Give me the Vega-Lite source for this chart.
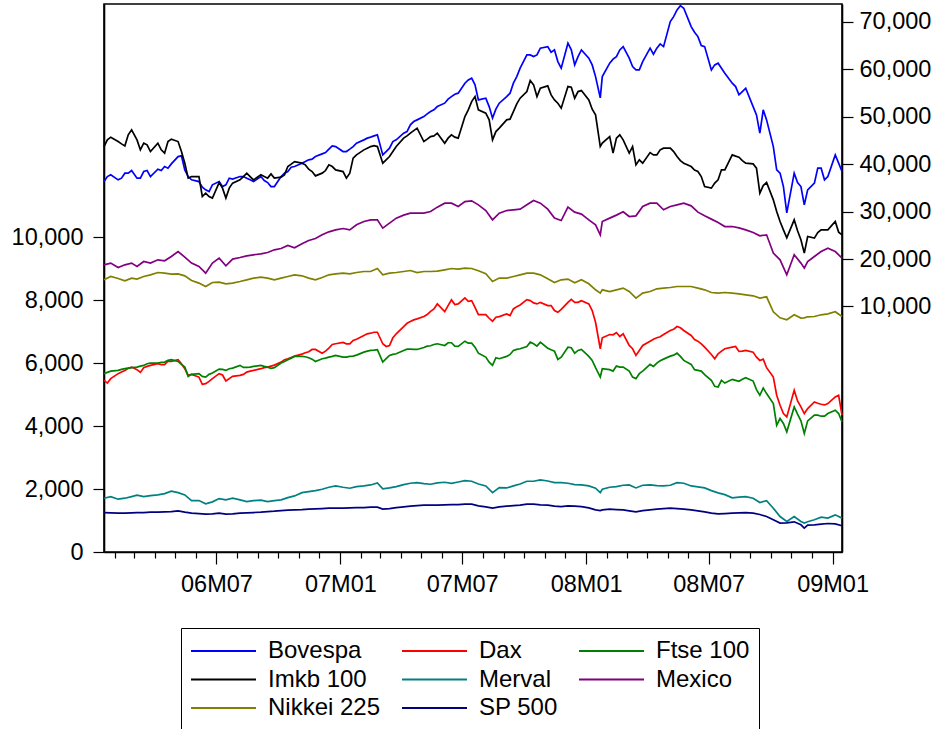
{
"$schema": "https://vega.github.io/schema/vega-lite/v6.json",
"width": 738, "height": 548,
"autosize": "none",
"padding": {"left": 104, "top": 4, "right": 94, "bottom": 177},
"background": "white",
"data": {"values": [
{"d":"2006-01-15","Bovespa":36311,"Imkb 100":43679,"Mexico":18777,"Nikkei 225":15619,"Dax":5457,"Ftse 100":5669,"Merval":1710,"SP 500":1254},
{"d":"2006-01-25","Bovespa":37722,"Imkb 100":45657,"Mexico":19134,"Nikkei 225":16314,"Dax":5511,"Ftse 100":5751,"Merval":1761,"SP 500":1245},
{"d":"2006-02-05","Bovespa":36669,"Imkb 100":44731,"Mexico":18208,"Nikkei 225":15893,"Dax":5669,"Ftse 100":5773,"Merval":1679,"SP 500":1235},
{"d":"2006-02-15","Bovespa":38079,"Imkb 100":43826,"Mexico":18777,"Nikkei 225":15409,"Dax":5773,"Ftse 100":5827,"Merval":1710,"SP 500":1235},
{"d":"2006-02-25","Bovespa":38627,"Imkb 100":47194,"Mexico":19134,"Nikkei 225":15977,"Dax":5878,"Ftse 100":5859,"Merval":1761,"SP 500":1245},
{"d":"2006-03-05","Bovespa":37027,"Imkb 100":45089,"Mexico":18419,"Nikkei 225":15766,"Dax":5796,"Ftse 100":5878,"Merval":1805,"SP 500":1254},
{"d":"2006-03-15","Bovespa":38416,"Imkb 100":44394,"Mexico":19471,"Nikkei 225":16314,"Dax":5859,"Ftse 100":5932,"Merval":1761,"SP 500":1254},
{"d":"2006-03-25","Bovespa":37364,"Imkb 100":42626,"Mexico":19134,"Nikkei 225":16672,"Dax":5932,"Ftse 100":6005,"Merval":1793,"SP 500":1267},
{"d":"2006-04-05","Bovespa":38921,"Imkb 100":44394,"Mexico":19829,"Nikkei 225":17156,"Dax":5986,"Ftse 100":6005,"Merval":1815,"SP 500":1267},
{"d":"2006-04-15","Bovespa":39469,"Imkb 100":42289,"Mexico":19619,"Nikkei 225":17029,"Dax":5954,"Ftse 100":6036,"Merval":1856,"SP 500":1276},
{"d":"2006-04-25","Bovespa":40037,"Imkb 100":45236,"Mexico":20524,"Nikkei 225":16819,"Dax":6058,"Ftse 100":6112,"Merval":1932,"SP 500":1286},
{"d":"2006-05-05","Bovespa":41574,"Imkb 100":44731,"Mexico":21576,"Nikkei 225":16882,"Dax":6112,"Ftse 100":6058,"Merval":1888,"SP 500":1308},
{"d":"2006-05-15","Bovespa":38774,"Imkb 100":40184,"Mexico":20397,"Nikkei 225":16461,"Dax":5827,"Ftse 100":5878,"Merval":1815,"SP 500":1267},
{"d":"2006-05-25","Bovespa":36669,"Imkb 100":37364,"Mexico":19134,"Nikkei 225":15472,"Dax":5647,"Ftse 100":5647,"Merval":1634,"SP 500":1235},
{"d":"2006-06-05","Bovespa":36311,"Imkb 100":37364,"Mexico":18419,"Nikkei 225":14924,"Dax":5561,"Ftse 100":5669,"Merval":1634,"SP 500":1222},
{"d":"2006-06-15","Bovespa":34564,"Imkb 100":33869,"Mexico":17029,"Nikkei 225":14209,"Dax":5352,"Ftse 100":5561,"Merval":1530,"SP 500":1203},
{"d":"2006-06-25","Bovespa":35617,"Imkb 100":32817,"Mexico":19134,"Nikkei 225":15051,"Dax":5511,"Ftse 100":5688,"Merval":1593,"SP 500":1213},
{"d":"2006-07-05","Bovespa":36311,"Imkb 100":36101,"Mexico":20187,"Nikkei 225":15135,"Dax":5669,"Ftse 100":5815,"Merval":1698,"SP 500":1235},
{"d":"2006-07-15","Bovespa":35617,"Imkb 100":32817,"Mexico":18566,"Nikkei 225":14777,"Dax":5435,"Ftse 100":5773,"Merval":1656,"SP 500":1203},
{"d":"2006-07-25","Bovespa":36816,"Imkb 100":35974,"Mexico":19976,"Nikkei 225":14924,"Dax":5583,"Ftse 100":5846,"Merval":1710,"SP 500":1213},
{"d":"2006-08-05","Bovespa":37364,"Imkb 100":36669,"Mexico":20313,"Nikkei 225":15261,"Dax":5615,"Ftse 100":5932,"Merval":1656,"SP 500":1235},
{"d":"2006-08-15","Bovespa":37027,"Imkb 100":38079,"Mexico":20671,"Nikkei 225":15619,"Dax":5720,"Ftse 100":5868,"Merval":1603,"SP 500":1245},
{"d":"2006-08-25","Bovespa":36311,"Imkb 100":36669,"Mexico":20882,"Nikkei 225":15977,"Dax":5773,"Ftse 100":5900,"Merval":1634,"SP 500":1254},
{"d":"2006-09-05","Bovespa":37364,"Imkb 100":37722,"Mexico":21092,"Nikkei 225":16187,"Dax":5827,"Ftse 100":5932,"Merval":1647,"SP 500":1267},
{"d":"2006-09-15","Bovespa":36101,"Imkb 100":37027,"Mexico":21366,"Nikkei 225":15977,"Dax":5878,"Ftse 100":5878,"Merval":1603,"SP 500":1286},
{"d":"2006-09-25","Bovespa":35259,"Imkb 100":37027,"Mexico":21934,"Nikkei 225":15619,"Dax":5941,"Ftse 100":5859,"Merval":1634,"SP 500":1298},
{"d":"2006-10-05","Bovespa":37364,"Imkb 100":37237,"Mexico":22208,"Nikkei 225":15977,"Dax":6036,"Ftse 100":6005,"Merval":1656,"SP 500":1317},
{"d":"2006-10-15","Bovespa":38416,"Imkb 100":39469,"Mexico":22839,"Nikkei 225":16314,"Dax":6144,"Ftse 100":6112,"Merval":1729,"SP 500":1330},
{"d":"2006-10-25","Bovespa":39469,"Imkb 100":40521,"Mexico":22355,"Nikkei 225":16672,"Dax":6226,"Ftse 100":6217,"Merval":1783,"SP 500":1340},
{"d":"2006-11-05","Bovespa":40184,"Imkb 100":40184,"Mexico":23197,"Nikkei 225":16461,"Dax":6290,"Ftse 100":6217,"Merval":1888,"SP 500":1349},
{"d":"2006-11-15","Bovespa":40879,"Imkb 100":38921,"Mexico":23892,"Nikkei 225":15977,"Dax":6366,"Ftse 100":6176,"Merval":1919,"SP 500":1362},
{"d":"2006-11-25","Bovespa":41574,"Imkb 100":37511,"Mexico":24313,"Nikkei 225":15619,"Dax":6439,"Ftse 100":6058,"Merval":1951,"SP 500":1371},
{"d":"2006-12-05","Bovespa":42142,"Imkb 100":38079,"Mexico":25092,"Nikkei 225":16103,"Dax":6321,"Ftse 100":6144,"Merval":1995,"SP 500":1381},
{"d":"2006-12-15","Bovespa":43131,"Imkb 100":39827,"Mexico":25723,"Nikkei 225":16672,"Dax":6480,"Ftse 100":6195,"Merval":2059,"SP 500":1393},
{"d":"2006-12-25","Bovespa":43679,"Imkb 100":38774,"Mexico":26144,"Nikkei 225":16882,"Dax":6619,"Ftse 100":6249,"Merval":2100,"SP 500":1393},
{"d":"2007-01-05","Bovespa":42626,"Imkb 100":38416,"Mexico":26418,"Nikkei 225":17029,"Dax":6660,"Ftse 100":6195,"Merval":2059,"SP 500":1393},
{"d":"2007-01-15","Bovespa":43131,"Imkb 100":38079,"Mexico":26144,"Nikkei 225":16882,"Dax":6619,"Ftse 100":6217,"Merval":2027,"SP 500":1403},
{"d":"2007-01-25","Bovespa":44394,"Imkb 100":41932,"Mexico":27197,"Nikkei 225":17156,"Dax":6765,"Ftse 100":6258,"Merval":2078,"SP 500":1412},
{"d":"2007-02-05","Bovespa":45089,"Imkb 100":42984,"Mexico":27891,"Nikkei 225":17366,"Dax":6882,"Ftse 100":6353,"Merval":2100,"SP 500":1412},
{"d":"2007-02-15","Bovespa":45657,"Imkb 100":43679,"Mexico":28249,"Nikkei 225":17366,"Dax":6955,"Ftse 100":6407,"Merval":2131,"SP 500":1425},
{"d":"2007-02-25","Bovespa":46142,"Imkb 100":43679,"Mexico":28249,"Nikkei 225":17998,"Dax":6986,"Ftse 100":6429,"Merval":2195,"SP 500":1425},
{"d":"2007-03-05","Bovespa":41932,"Imkb 100":40184,"Mexico":26502,"Nikkei 225":16672,"Dax":6619,"Ftse 100":6036,"Merval":2005,"SP 500":1362},
{"d":"2007-03-15","Bovespa":43342,"Imkb 100":41574,"Mexico":27554,"Nikkei 225":17029,"Dax":6565,"Ftse 100":6249,"Merval":2036,"SP 500":1381},
{"d":"2007-03-25","Bovespa":45089,"Imkb 100":43679,"Mexico":28607,"Nikkei 225":17156,"Dax":6936,"Ftse 100":6302,"Merval":2078,"SP 500":1412},
{"d":"2007-04-05","Bovespa":46499,"Imkb 100":45447,"Mexico":29238,"Nikkei 225":17366,"Dax":7167,"Ftse 100":6407,"Merval":2141,"SP 500":1435},
{"d":"2007-04-15","Bovespa":48247,"Imkb 100":46499,"Mexico":29659,"Nikkei 225":17577,"Dax":7325,"Ftse 100":6448,"Merval":2185,"SP 500":1457},
{"d":"2007-04-25","Bovespa":49299,"Imkb 100":47552,"Mexico":29659,"Nikkei 225":17156,"Dax":7411,"Ftse 100":6439,"Merval":2204,"SP 500":1476},
{"d":"2007-05-05","Bovespa":49994,"Imkb 100":44731,"Mexico":29659,"Nikkei 225":17366,"Dax":7484,"Ftse 100":6502,"Merval":2173,"SP 500":1488},
{"d":"2007-05-15","Bovespa":51046,"Imkb 100":45784,"Mexico":29996,"Nikkei 225":17366,"Dax":7651,"Ftse 100":6556,"Merval":2154,"SP 500":1488},
{"d":"2007-05-25","Bovespa":52099,"Imkb 100":46499,"Mexico":30922,"Nikkei 225":17450,"Dax":7886,"Ftse 100":6619,"Merval":2195,"SP 500":1488},
{"d":"2007-06-05","Bovespa":52814,"Imkb 100":44394,"Mexico":31764,"Nikkei 225":17724,"Dax":7642,"Ftse 100":6565,"Merval":2217,"SP 500":1498},
{"d":"2007-06-15","Bovespa":54204,"Imkb 100":46142,"Mexico":31764,"Nikkei 225":17998,"Dax":8013,"Ftse 100":6651,"Merval":2185,"SP 500":1507},
{"d":"2007-06-25","Bovespa":54919,"Imkb 100":45447,"Mexico":31049,"Nikkei 225":17871,"Dax":7886,"Ftse 100":6534,"Merval":2226,"SP 500":1507},
{"d":"2007-07-05","Bovespa":57024,"Imkb 100":49994,"Mexico":32101,"Nikkei 225":18082,"Dax":8076,"Ftse 100":6701,"Merval":2268,"SP 500":1520},
{"d":"2007-07-15","Bovespa":58077,"Imkb 100":53151,"Mexico":32249,"Nikkei 225":17998,"Dax":7990,"Ftse 100":6638,"Merval":2249,"SP 500":1520},
{"d":"2007-07-25","Bovespa":53509,"Imkb 100":51404,"Mexico":31407,"Nikkei 225":17514,"Dax":7547,"Ftse 100":6321,"Merval":2163,"SP 500":1466},
{"d":"2007-08-05","Bovespa":53867,"Imkb 100":50709,"Mexico":30207,"Nikkei 225":16882,"Dax":7547,"Ftse 100":6195,"Merval":2100,"SP 500":1435},
{"d":"2007-08-15","Bovespa":49657,"Imkb 100":45089,"Mexico":28249,"Nikkei 225":15261,"Dax":7335,"Ftse 100":5932,"Merval":1888,"SP 500":1393},
{"d":"2007-08-25","Bovespa":52814,"Imkb 100":47552,"Mexico":29659,"Nikkei 225":15977,"Dax":7484,"Ftse 100":6144,"Merval":2046,"SP 500":1435},
{"d":"2007-09-05","Bovespa":54204,"Imkb 100":49299,"Mexico":30207,"Nikkei 225":15977,"Dax":7569,"Ftse 100":6217,"Merval":2036,"SP 500":1457},
{"d":"2007-09-15","Bovespa":57024,"Imkb 100":51046,"Mexico":30354,"Nikkei 225":16314,"Dax":7727,"Ftse 100":6407,"Merval":2100,"SP 500":1476},
{"d":"2007-09-25","Bovespa":60182,"Imkb 100":53867,"Mexico":30501,"Nikkei 225":16672,"Dax":7854,"Ftse 100":6461,"Merval":2163,"SP 500":1488},
{"d":"2007-10-05","Bovespa":62982,"Imkb 100":55256,"Mexico":31407,"Nikkei 225":17029,"Dax":8022,"Ftse 100":6534,"Merval":2249,"SP 500":1520},
{"d":"2007-10-15","Bovespa":62624,"Imkb 100":56667,"Mexico":32312,"Nikkei 225":17029,"Dax":7918,"Ftse 100":6619,"Merval":2249,"SP 500":1520},
{"d":"2007-10-25","Bovespa":64392,"Imkb 100":55972,"Mexico":31764,"Nikkei 225":16672,"Dax":7936,"Ftse 100":6670,"Merval":2290,"SP 500":1498},
{"d":"2007-11-05","Bovespa":64729,"Imkb 100":56456,"Mexico":30501,"Nikkei 225":15830,"Dax":7832,"Ftse 100":6480,"Merval":2258,"SP 500":1488},
{"d":"2007-11-15","Bovespa":64034,"Imkb 100":53509,"Mexico":28607,"Nikkei 225":15051,"Dax":7674,"Ftse 100":6385,"Merval":2204,"SP 500":1457},
{"d":"2007-11-25","Bovespa":60182,"Imkb 100":51762,"Mexico":28102,"Nikkei 225":15619,"Dax":7715,"Ftse 100":6195,"Merval":2204,"SP 500":1444},
{"d":"2007-12-05","Bovespa":65444,"Imkb 100":56309,"Mexico":30922,"Nikkei 225":15766,"Dax":7936,"Ftse 100":6511,"Merval":2185,"SP 500":1466},
{"d":"2007-12-15","Bovespa":60877,"Imkb 100":53867,"Mexico":29870,"Nikkei 225":14988,"Dax":7936,"Ftse 100":6321,"Merval":2141,"SP 500":1457},
{"d":"2007-12-25","Bovespa":64034,"Imkb 100":55467,"Mexico":29449,"Nikkei 225":15619,"Dax":7990,"Ftse 100":6439,"Merval":2131,"SP 500":1444},
{"d":"2008-01-05","Bovespa":62287,"Imkb 100":53509,"Mexico":28249,"Nikkei 225":14777,"Dax":7886,"Ftse 100":6217,"Merval":2100,"SP 500":1403},
{"d":"2008-01-15","Bovespa":58414,"Imkb 100":50352,"Mexico":27197,"Nikkei 225":13514,"Dax":7303,"Ftse 100":5859,"Merval":2027,"SP 500":1340},
{"d":"2008-01-22","Bovespa":53930,"Imkb 100":43679,"Mexico":25092,"Nikkei 225":12819,"Dax":6461,"Ftse 100":5561,"Merval":1888,"SP 500":1317},
{"d":"2008-01-25","Bovespa":58414,"Imkb 100":44394,"Mexico":27891,"Nikkei 225":13514,"Dax":6809,"Ftse 100":5827,"Merval":1995,"SP 500":1340},
{"d":"2008-02-05","Bovespa":61234,"Imkb 100":45784,"Mexico":28607,"Nikkei 225":13156,"Dax":6914,"Ftse 100":5796,"Merval":2059,"SP 500":1362},
{"d":"2008-02-15","Bovespa":62624,"Imkb 100":45447,"Mexico":29238,"Nikkei 225":13514,"Dax":6977,"Ftse 100":5910,"Merval":2078,"SP 500":1349},
{"d":"2008-02-25","Bovespa":64729,"Imkb 100":45089,"Mexico":29933,"Nikkei 225":13872,"Dax":6936,"Ftse 100":5878,"Merval":2122,"SP 500":1340},
{"d":"2008-03-05","Bovespa":62287,"Imkb 100":42289,"Mexico":28944,"Nikkei 225":13156,"Dax":6565,"Ftse 100":5751,"Merval":2131,"SP 500":1308},
{"d":"2008-03-15","Bovespa":59824,"Imkb 100":39827,"Mexico":29091,"Nikkei 225":11767,"Dax":6249,"Ftse 100":5511,"Merval":2036,"SP 500":1276},
{"d":"2008-03-25","Bovespa":61571,"Imkb 100":40184,"Mexico":31049,"Nikkei 225":12819,"Dax":6565,"Ftse 100":5751,"Merval":2122,"SP 500":1317},
{"d":"2008-04-05","Bovespa":64392,"Imkb 100":42416,"Mexico":31764,"Nikkei 225":13156,"Dax":6701,"Ftse 100":5963,"Merval":2131,"SP 500":1340},
{"d":"2008-04-15","Bovespa":64392,"Imkb 100":41932,"Mexico":31764,"Nikkei 225":13725,"Dax":6809,"Ftse 100":6005,"Merval":2109,"SP 500":1362},
{"d":"2008-04-25","Bovespa":64729,"Imkb 100":43342,"Mexico":30354,"Nikkei 225":13872,"Dax":6914,"Ftse 100":6131,"Merval":2100,"SP 500":1381},
{"d":"2008-05-05","Bovespa":69991,"Imkb 100":43342,"Mexico":31049,"Nikkei 225":13998,"Dax":7040,"Ftse 100":6226,"Merval":2122,"SP 500":1393},
{"d":"2008-05-15","Bovespa":72454,"Imkb 100":41574,"Mexico":31407,"Nikkei 225":14209,"Dax":7167,"Ftse 100":6321,"Merval":2204,"SP 500":1381},
{"d":"2008-05-25","Bovespa":72812,"Imkb 100":40184,"Mexico":31764,"Nikkei 225":14209,"Dax":7040,"Ftse 100":6090,"Merval":2185,"SP 500":1362},
{"d":"2008-06-05","Bovespa":68939,"Imkb 100":39469,"Mexico":31196,"Nikkei 225":14209,"Dax":6882,"Ftse 100":5963,"Merval":2100,"SP 500":1340},
{"d":"2008-06-15","Bovespa":66834,"Imkb 100":38416,"Mexico":29870,"Nikkei 225":13872,"Dax":6701,"Ftse 100":5773,"Merval":2068,"SP 500":1308},
{"d":"2008-06-25","Bovespa":64729,"Imkb 100":35259,"Mexico":29091,"Nikkei 225":13514,"Dax":6511,"Ftse 100":5637,"Merval":2036,"SP 500":1276},
{"d":"2008-07-05","Bovespa":59824,"Imkb 100":34922,"Mexico":28396,"Nikkei 225":12946,"Dax":6280,"Ftse 100":5457,"Merval":1951,"SP 500":1235},
{"d":"2008-07-15","Bovespa":61234,"Imkb 100":36669,"Mexico":27681,"Nikkei 225":12819,"Dax":6302,"Ftse 100":5245,"Merval":1878,"SP 500":1213},
{"d":"2008-07-25","Bovespa":59129,"Imkb 100":38774,"Mexico":26839,"Nikkei 225":12946,"Dax":6461,"Ftse 100":5371,"Merval":1824,"SP 500":1222},
{"d":"2008-08-05","Bovespa":57024,"Imkb 100":41932,"Mexico":26839,"Nikkei 225":12819,"Dax":6511,"Ftse 100":5488,"Merval":1720,"SP 500":1235},
{"d":"2008-08-15","Bovespa":54562,"Imkb 100":41447,"Mexico":26565,"Nikkei 225":12672,"Dax":6375,"Ftse 100":5425,"Merval":1742,"SP 500":1245},
{"d":"2008-08-25","Bovespa":55972,"Imkb 100":40184,"Mexico":26144,"Nikkei 225":12462,"Dax":6407,"Ftse 100":5542,"Merval":1761,"SP 500":1254},
{"d":"2008-09-05","Bovespa":52099,"Imkb 100":40037,"Mexico":25576,"Nikkei 225":12251,"Dax":6353,"Ftse 100":5435,"Merval":1710,"SP 500":1235},
{"d":"2008-09-15","Bovespa":46499,"Imkb 100":33869,"Mexico":24881,"Nikkei 225":11767,"Dax":6090,"Ftse 100":4982,"Merval":1571,"SP 500":1191},
{"d":"2008-09-25","Bovespa":49299,"Imkb 100":36101,"Mexico":25092,"Nikkei 225":12041,"Dax":5859,"Ftse 100":5036,"Merval":1634,"SP 500":1127},
{"d":"2008-10-05","Bovespa":43679,"Imkb 100":32459,"Mexico":21239,"Nikkei 225":8883,"Dax":5561,"Ftse 100":4719,"Merval":1393,"SP 500":1023},
{"d":"2008-10-15","Bovespa":38079,"Imkb 100":27891,"Mexico":19829,"Nikkei 225":7620,"Dax":4665,"Ftse 100":4244,"Merval":1127,"SP 500":918},
{"d":"2008-10-25","Bovespa":29723,"Imkb 100":24460,"Mexico":16672,"Nikkei 225":7199,"Dax":4294,"Ftse 100":3819,"Merval":969,"SP 500":928},
{"d":"2008-11-05","Bovespa":38079,"Imkb 100":28249,"Mexico":20882,"Nikkei 225":8252,"Dax":5140,"Ftse 100":4611,"Merval":1127,"SP 500":960},
{"d":"2008-11-15","Bovespa":35259,"Imkb 100":24039,"Mexico":19134,"Nikkei 225":7557,"Dax":4611,"Ftse 100":4168,"Merval":969,"SP 500":865},
{"d":"2008-11-20","Bovespa":31407,"Imkb 100":21239,"Mexico":18082,"Nikkei 225":7620,"Dax":4402,"Ftse 100":3769,"Merval":918,"SP 500":760},
{"d":"2008-11-25","Bovespa":34564,"Imkb 100":24734,"Mexico":19471,"Nikkei 225":7831,"Dax":4560,"Ftse 100":4168,"Merval":960,"SP 500":855},
{"d":"2008-12-05","Bovespa":35974,"Imkb 100":24397,"Mexico":20524,"Nikkei 225":7894,"Dax":4769,"Ftse 100":4348,"Merval":1023,"SP 500":865},
{"d":"2008-12-15","Bovespa":39132,"Imkb 100":26144,"Mexico":21576,"Nikkei 225":8252,"Dax":4697,"Ftse 100":4317,"Merval":1108,"SP 500":887},
{"d":"2008-12-25","Bovespa":37364,"Imkb 100":26144,"Mexico":22292,"Nikkei 225":8462,"Dax":4719,"Ftse 100":4402,"Merval":1077,"SP 500":906},
{"d":"2009-01-05","Bovespa":41932,"Imkb 100":27891,"Mexico":21576,"Nikkei 225":8883,"Dax":4928,"Ftse 100":4507,"Merval":1181,"SP 500":896},
{"d":"2009-01-15","Bovespa":38416,"Imkb 100":25092,"Mexico":20187,"Nikkei 225":7894,"Dax":4348,"Ftse 100":4136,"Merval":1077,"SP 500":833},
{"d":"2006-01-20","Bovespa":37364,"Imkb 100":45089,"Dax":5371,"Ftse 100":5710},
{"d":"2006-02-10","Bovespa":37027,"Imkb 100":44247,"Dax":5720,"Ftse 100":5805},
{"d":"2006-02-20","Bovespa":38079,"Imkb 100":46142,"Dax":5837,"Ftse 100":5846},
{"d":"2006-03-10","Bovespa":37027,"Imkb 100":42984,"Dax":5710,"Ftse 100":5910},
{"d":"2006-03-20","Bovespa":38627,"Imkb 100":44036,"Dax":5900,"Ftse 100":5986},
{"d":"2006-04-10","Bovespa":38627,"Imkb 100":42984,"Dax":5954,"Ftse 100":6027},
{"d":"2006-04-20","Bovespa":39132,"Imkb 100":44731,"Dax":6068,"Ftse 100":6090},
{"d":"2006-05-10","Bovespa":41721,"Imkb 100":42626,"Dax":5986,"Ftse 100":5963},
{"d":"2006-05-20","Bovespa":37364,"Imkb 100":37027,"Dax":5615,"Ftse 100":5583},
{"d":"2006-06-10","Bovespa":35132,"Imkb 100":33154,"Dax":5330,"Ftse 100":5583},
{"d":"2006-06-20","Bovespa":34206,"Imkb 100":33154,"Dax":5425,"Ftse 100":5647},
{"d":"2006-07-10","Bovespa":35259,"Imkb 100":34922,"Dax":5625,"Ftse 100":5805},
{"d":"2006-07-20","Bovespa":37027,"Imkb 100":34922,"Dax":5511,"Ftse 100":5827},
{"d":"2006-08-10","Bovespa":37364,"Imkb 100":37364,"Dax":5647,"Ftse 100":5868},
{"d":"2006-08-20","Bovespa":36669,"Imkb 100":37364,"Dax":5751,"Ftse 100":5878},
{"d":"2006-09-10","Bovespa":36522,"Imkb 100":37364,"Dax":5859,"Ftse 100":5900},
{"d":"2006-09-20","Bovespa":35259,"Imkb 100":37932,"Dax":5910,"Ftse 100":5837},
{"d":"2006-10-10","Bovespa":38079,"Imkb 100":37722,"Dax":6112,"Ftse 100":6058},
{"d":"2006-10-20","Bovespa":39342,"Imkb 100":39974,"Dax":6185,"Ftse 100":6163},
{"d":"2006-11-10","Bovespa":40521,"Imkb 100":39827,"Dax":6334,"Ftse 100":6207},
{"d":"2006-11-20","Bovespa":41026,"Imkb 100":38416,"Dax":6439,"Ftse 100":6131},
{"d":"2006-12-10","Bovespa":42416,"Imkb 100":38627,"Dax":6385,"Ftse 100":6163},
{"d":"2006-12-20","Bovespa":43826,"Imkb 100":39469,"Dax":6597,"Ftse 100":6217},
{"d":"2007-01-10","Bovespa":42626,"Imkb 100":37027,"Dax":6619,"Ftse 100":6195},
{"d":"2007-01-20","Bovespa":43679,"Imkb 100":41237,"Dax":6724,"Ftse 100":6226},
{"d":"2007-02-10","Bovespa":45447,"Imkb 100":43342,"Dax":6936,"Ftse 100":6385},
{"d":"2007-02-20","Bovespa":45930,"Imkb 100":43889,"Dax":6986,"Ftse 100":6416},
{"d":"2007-03-10","Bovespa":42626,"Imkb 100":40879,"Dax":6534,"Ftse 100":6144},
{"d":"2007-03-20","Bovespa":44731,"Imkb 100":42626,"Dax":6809,"Ftse 100":6280},
{"d":"2007-04-10","Bovespa":46836,"Imkb 100":45930,"Dax":7271,"Ftse 100":6448},
{"d":"2007-04-20","Bovespa":48941,"Imkb 100":47047,"Dax":7379,"Ftse 100":6439},
{"d":"2007-05-10","Bovespa":50562,"Imkb 100":45236,"Dax":7547,"Ftse 100":6543},
{"d":"2007-05-20","Bovespa":51404,"Imkb 100":45930,"Dax":7727,"Ftse 100":6597},
{"d":"2007-06-10","Bovespa":53656,"Imkb 100":45447,"Dax":7832,"Ftse 100":6651},
{"d":"2007-06-20","Bovespa":54709,"Imkb 100":45657,"Dax":7864,"Ftse 100":6543},
{"d":"2007-07-10","Bovespa":57719,"Imkb 100":51404,"Dax":7968,"Ftse 100":6638},
{"d":"2007-07-20","Bovespa":56667,"Imkb 100":54204,"Dax":7778,"Ftse 100":6511},
{"d":"2007-08-10","Bovespa":52099,"Imkb 100":49299,"Dax":7430,"Ftse 100":6036},
{"d":"2007-08-20","Bovespa":51551,"Imkb 100":46836,"Dax":7461,"Ftse 100":6176},
{"d":"2007-09-10","Bovespa":54919,"Imkb 100":49446,"Dax":7515,"Ftse 100":6280},
{"d":"2007-09-20","Bovespa":58414,"Imkb 100":52667,"Dax":7800,"Ftse 100":6439},
{"d":"2007-10-10","Bovespa":62982,"Imkb 100":57572,"Dax":7990,"Ftse 100":6670},
{"d":"2007-10-20","Bovespa":62982,"Imkb 100":54204,"Dax":7886,"Ftse 100":6543},
{"d":"2007-11-10","Bovespa":63550,"Imkb 100":54562,"Dax":7832,"Ftse 100":6429},
{"d":"2007-11-20","Bovespa":61571,"Imkb 100":52814,"Dax":7620,"Ftse 100":6122},
{"d":"2007-12-10","Bovespa":64034,"Imkb 100":56182,"Dax":8032,"Ftse 100":6492},
{"d":"2007-12-20","Bovespa":62624,"Imkb 100":55256,"Dax":7936,"Ftse 100":6407},
{"d":"2008-01-10","Bovespa":60877,"Imkb 100":51551,"Dax":7674,"Ftse 100":6090},
{"d":"2008-02-10","Bovespa":62076,"Imkb 100":42289,"Dax":6904,"Ftse 100":5751},
{"d":"2008-02-20","Bovespa":64034,"Imkb 100":46142,"Dax":6850,"Ftse 100":5878},
{"d":"2008-03-10","Bovespa":60519,"Imkb 100":43679,"Dax":6461,"Ftse 100":5561},
{"d":"2008-03-20","Bovespa":59824,"Imkb 100":40879,"Dax":6407,"Ftse 100":5669},
{"d":"2008-04-10","Bovespa":63129,"Imkb 100":41932,"Dax":6765,"Ftse 100":5900},
{"d":"2008-04-20","Bovespa":65297,"Imkb 100":42984,"Dax":6841,"Ftse 100":6081},
{"d":"2008-05-10","Bovespa":71044,"Imkb 100":42626,"Dax":7081,"Ftse 100":6258},
{"d":"2008-05-20","Bovespa":73359,"Imkb 100":40732,"Dax":7126,"Ftse 100":6217},
{"d":"2008-06-10","Bovespa":67760,"Imkb 100":38711,"Dax":6755,"Ftse 100":5796},
{"d":"2008-06-20","Bovespa":64939,"Imkb 100":37364,"Dax":6619,"Ftse 100":5751},
{"d":"2008-07-10","Bovespa":60877,"Imkb 100":35974,"Dax":6144,"Ftse 100":5267},
{"d":"2008-07-20","Bovespa":60182,"Imkb 100":38774,"Dax":6385,"Ftse 100":5457},
{"d":"2008-08-10","Bovespa":56309,"Imkb 100":41658,"Dax":6534,"Ftse 100":5457},
{"d":"2008-08-20","Bovespa":55256,"Imkb 100":40732,"Dax":6385,"Ftse 100":5488},
{"d":"2008-09-10","Bovespa":50352,"Imkb 100":39132,"Dax":6195,"Ftse 100":5162},
{"d":"2008-09-20","Bovespa":51404,"Imkb 100":35469,"Dax":6131,"Ftse 100":5213},
{"d":"2008-10-10","Bovespa":38774,"Imkb 100":29996,"Dax":4982,"Ftse 100":4032},
{"d":"2008-10-20","Bovespa":35259,"Imkb 100":26144,"Dax":4402,"Ftse 100":4085},
{"d":"2008-11-10","Bovespa":36101,"Imkb 100":25934,"Dax":4801,"Ftse 100":4380},
{"d":"2008-12-10","Bovespa":39132,"Imkb 100":25576,"Dax":4728,"Ftse 100":4348},
{"d":"2008-12-20","Bovespa":36669,"Imkb 100":26144,"Dax":4675,"Ftse 100":4317},
{"d":"2009-01-10","Bovespa":40184,"Imkb 100":25660,"Dax":4982,"Ftse 100":4402}
]},
"encoding": {
  "x": {"field": "d", "type": "temporal", "title": null,
    "scale": {"domain": [{"year": 2006, "month": 1, "date": 15}, {"year": 2009, "month": 1, "date": 15}]},
    "axis": {"tickCount": {"interval": "month", "step": 1},
      "labelExpr": "month(datum.value) % 6 == 0 ? timeFormat(datum.value, '%yM%m') : ''",
      "tickSize": {"condition": {"test": "month(datum.value) % 6 == 0", "value": 12}, "value": 6},
      "labelPadding": 8, "labelOverlap": false, "labelFlush": false}},
  "color": {"field": "series", "type": "nominal",
    "scale": {"domain": ["Bovespa", "Imkb 100", "Nikkei 225", "Dax", "Merval", "SP 500", "Ftse 100", "Mexico"],
      "range": ["#0000ff", "#000000", "#808000", "#ff0000", "#008080", "#000080", "#008000", "#800080"]},
    "legend": {"title": null, "orient": "none", "legendX": 77, "legendY": 624, "columns": 3,
      "symbolType": "stroke", "symbolSize": 4225, "symbolStrokeWidth": 2,
      "labelFont": "Liberation Sans", "labelFontSize": 24, "labelColor": "#000", "labelOffset": 11, "labelLimit": 300,
      "clipHeight": 28, "rowPadding": 0.5, "columnPadding": 20, "padding": 9, "strokeColor": "#000"}}
},
"layer": [
  {"transform": [{"fold": ["Dax", "Ftse 100", "Merval", "SP 500"], "as": ["series", "value"]}, {"filter": "isValid(datum.value)"}],
   "mark": {"type": "line", "strokeWidth": 1.7, "invalid": "filter"},
   "encoding": {"y": {"field": "value", "type": "quantitative", "title": null,
     "scale": {"domain": [0, 17420], "nice": false, "zero": false},
     "axis": {"orient": "left", "values": [0, 2000, 4000, 6000, 8000, 10000], "format": ",.0f", "tickSize": 11, "labelPadding": 10}}}},
  {"transform": [{"fold": ["Bovespa", "Imkb 100", "Mexico", "Nikkei 225"], "as": ["series", "value"]}, {"filter": "isValid(datum.value)"}],
   "mark": {"type": "line", "strokeWidth": 1.7, "invalid": "filter"},
   "encoding": {"y": {"field": "value", "type": "quantitative", "title": null,
     "scale": {"domain": [-41700, 73700], "nice": false, "zero": false},
     "axis": {"orient": "right", "values": [10000, 20000, 30000, 40000, 50000, 60000, 70000], "format": ",.0f", "tickSize": 11, "labelPadding": 6}}}}
],
"resolve": {"scale": {"y": "independent"}},
"config": {
  "axis": {"labelFont": "Liberation Sans", "labelFontSize": 23.5, "labelColor": "#000", "tickColor": "#000", "domainColor": "#000", "domainWidth": 1.6, "tickWidth": 1.2, "grid": false},
  "view": {"stroke": "#000", "strokeWidth": 1.6}
}
}
